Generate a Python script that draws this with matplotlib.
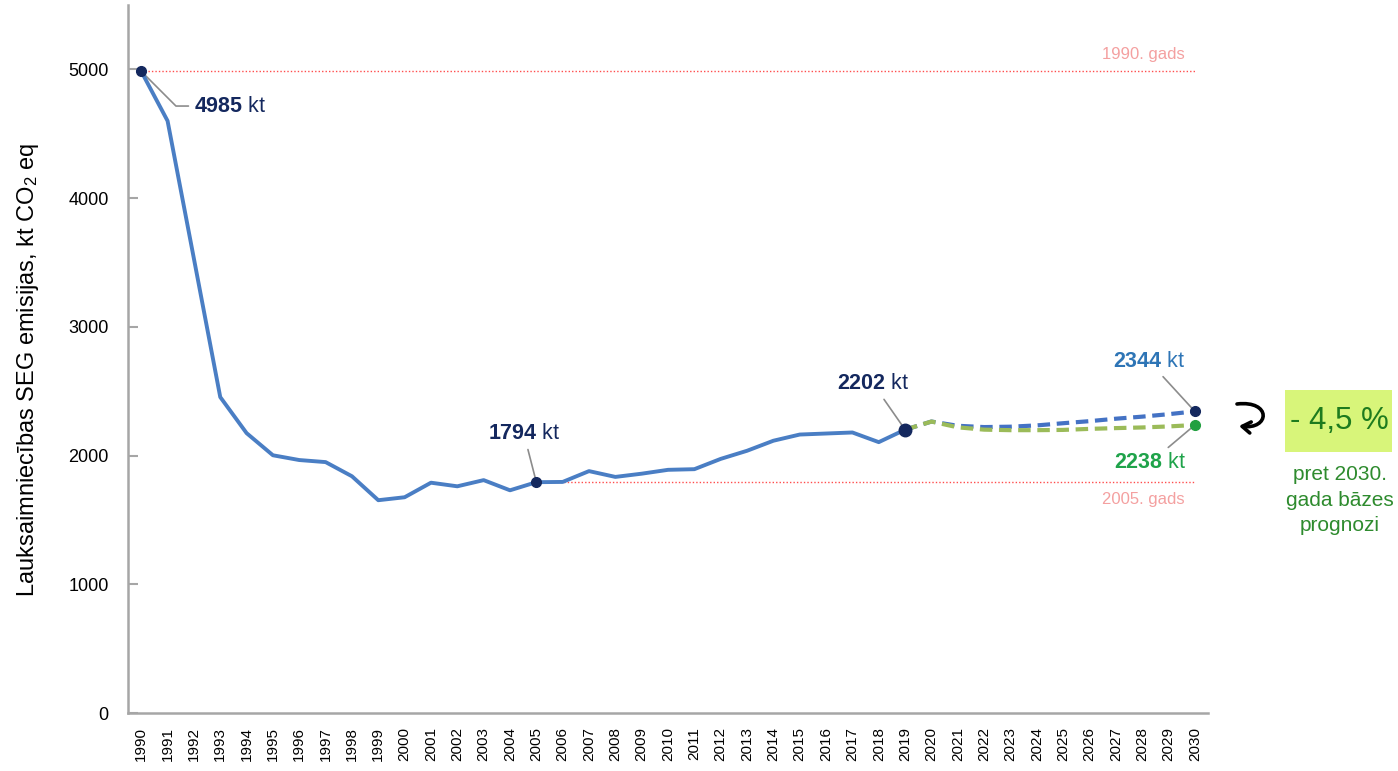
import matplotlib
matplotlib.use('Agg')
import matplotlib.pyplot as plt
from matplotlib import font_manager
from matplotlib.patches import FancyArrowPatch, Rectangle
from matplotlib.path import Path

# pick a narrow font if we have one
names = {f.name for f in font_manager.fontManager.ttflist}
narrow = 'Liberation Sans Narrow' if 'Liberation Sans Narrow' in names else 'Liberation Sans'

plt.rcParams.update({'font.family': 'sans-serif', 'font.sans-serif': ['Liberation Sans', 'DejaVu Sans'],
                     'mathtext.fontset': 'custom', 'mathtext.rm': narrow, 'mathtext.it': narrow,
                     'mathtext.bf': narrow + ':bold'})

# historic emissions, kt CO2 eq
years_hist = list(range(1990, 2020))
emis_hist = [4985, 4600, 3530, 2455, 2175, 2003, 1966, 1950, 1840, 1654,
             1677, 1790, 1762, 1810, 1731, 1794, 1796, 1880, 1835, 1860,
             1890, 1895, 1975, 2038, 2116, 2164, 2172, 2180, 2105, 2202]

# projections 2019-2030
years_proj = list(range(2019, 2031))
proj_base = [2202, 2265, 2232, 2222, 2225, 2235, 2252, 2268, 2287, 2303, 2322, 2344]
proj_target = [2202, 2265, 2220, 2202, 2198, 2198, 2200, 2208, 2214, 2219, 2227, 2238]

ref_1990 = emis_hist[0]
ref_2005 = emis_hist[years_hist.index(2005)]
yticks = [0, 1000, 2000, 3000, 4000, 5000]
reduction = '- 4,5 %'

navy = '#14285e'
line_blue = '#4a7ec4'
dash_blue = '#4472c4'
dash_green = '#9bbb59'
ref_red = '#ff4d4d'
ref_text = '#f4a0a0'

W, H = 1398, 771
def fpos(x, y):
    # pixel position (from top left) -> figure fraction
    return (x / W, 1 - y / H)

fig = plt.figure(figsize=(13.98, 7.71), dpi=100, facecolor='white')
ax = fig.add_axes([0.0916, 0.075, 0.7725, 0.9185])

# reference lines
ax.plot([1990, 2030], [ref_1990, ref_1990], color=ref_red, lw=1, ls=(0, (1, 1.5)), zorder=1)
ax.plot([2005, 2030], [ref_2005, ref_2005], color=ref_red, lw=1, ls=(0, (1, 1.5)), zorder=1)
ax.text(2029.6, ref_1990 + 70, '1990. gads', color=ref_text, fontsize=12, family=narrow, ha='right', va='bottom')
ax.text(2029.6, ref_2005 - 80, '2005. gads', color=ref_text, fontsize=12, family=narrow, ha='right', va='top')

ax.plot(years_proj, proj_target, color=dash_green, lw=3, ls=(0, (3, 1.6)), zorder=3)
ax.plot(years_proj, proj_base, color=dash_blue, lw=3, ls=(0, (3, 1.6)), zorder=2)
ax.plot(years_hist, emis_hist, color=line_blue, lw=2.8, zorder=4)

# markers
ax.plot([1990, 2005], [ref_1990, ref_2005], 'o', color=navy, ms=7, zorder=5)
ax.plot([2019], [emis_hist[-1]], 'o', color=navy, ms=9, zorder=5)
ax.plot([2030], [proj_base[-1]], 'o', color=navy, ms=7, zorder=5)
ax.plot([2030], [proj_target[-1]], 'o', color='#22a040', ms=7, zorder=5)

lead = dict(arrowstyle='-', color='#8c8c8c', lw=1.2, shrinkA=2, shrinkB=3)
fs = 15.5
ax.annotate(r'$\mathbf{%d}$ kt' % ref_1990, xy=(1990, ref_1990), xytext=(38, -25), textcoords='offset points',
            ha='left', va='center', fontsize=fs, color=navy, family=narrow,
            arrowprops=dict(lead, connectionstyle='angle,angleA=0,angleB=-45,rad=0'))
ax.annotate(r'$\mathbf{%d}$ kt' % ref_2005, xy=(2005, ref_2005), xytext=(-9, 35), textcoords='offset points',
            ha='center', va='center', fontsize=fs, color=navy, family=narrow, arrowprops=lead)
ax.annotate(r'$\mathbf{%d}$ kt' % emis_hist[-1], xy=(2019, emis_hist[-1]), xytext=(-23, 33), textcoords='offset points',
            ha='center', va='center', fontsize=fs, color=navy, family=narrow, arrowprops=lead)
ax.annotate(r'$\mathbf{%d}$ kt' % proj_base[-1], xy=(2030, proj_base[-1]), xytext=(-33, 36), textcoords='offset points',
            ha='center', va='center', fontsize=fs, color='#2e75b6', family=narrow, arrowprops=lead)
ax.annotate(r'$\mathbf{%d}$ kt' % proj_target[-1], xy=(2030, proj_target[-1]), xytext=(-32, -27), textcoords='offset points',
            ha='center', va='center', fontsize=fs, color='#1fa34a', family=narrow, arrowprops=lead)

ax.set_xlim(1989.5, 2030.5)
ax.set_ylim(0, 5500)
ax.set_xticks(range(1990, 2031))
ax.set_xticklabels([str(y) for y in range(1990, 2031)], rotation=90, fontsize=11)
ax.set_yticks(yticks)
ax.set_yticklabels([str(v) for v in yticks], fontsize=13)
ax.tick_params(axis='x', length=0, pad=10)
ax.tick_params(axis='y', direction='in', length=7, width=1.5, color='#a6a6a6', pad=14)
for s in ['top', 'right']:
    ax.spines[s].set_visible(False)
for s in ['left', 'bottom']:
    ax.spines[s].set_color('#a6a6a6')
    ax.spines[s].set_linewidth(1.8)
ax.set_ylabel(r'Lauksaimniecības SEG emisijas, kt CO$_2$ eq', fontsize=17, family=narrow)
ax.yaxis.set_label_coords(-0.081, 0.4845)

# right-hand side note: hooked arrow
hook = Path([fpos(1237, 404), fpos(1272, 400), fpos(1270, 430), fpos(1239, 426)],
            [Path.MOVETO, Path.CURVE4, Path.CURVE4, Path.CURVE4])
arr = FancyArrowPatch(path=hook, transform=fig.transFigure, arrowstyle='->,head_length=6,head_width=4',
                      color='black', lw=2.6)
fig.add_artist(arr)

x0, y0 = fpos(1285, 452)
x1, y1 = fpos(1392, 390)
fig.add_artist(Rectangle((x0, y0), x1 - x0, y1 - y0, transform=fig.transFigure, facecolor='#d8f57a',
                         edgecolor='none'))
fig.text(*fpos(1339, 421), reduction, fontsize=22.5, family=narrow, color='#1e7b1e', ha='center', va='center')
fig.text(*fpos(1340, 500), 'pret 2030.\ngada bāzes\nprognozi', fontsize=15, family=narrow,
         color='#2e8b2e', ha='center', va='center', linespacing=1.45)

fig.savefig('out.png', dpi=100, facecolor='white')
